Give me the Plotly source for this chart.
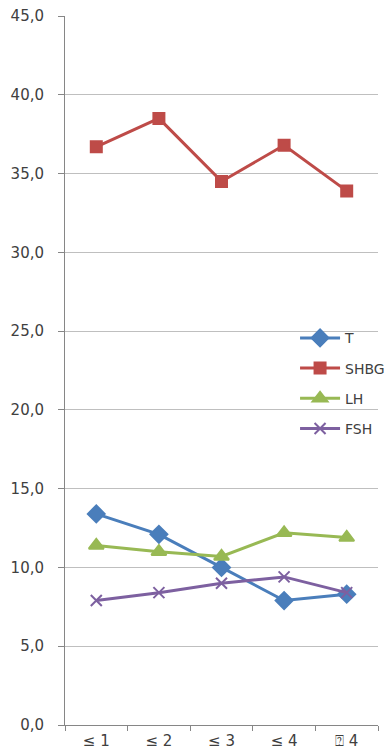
import plotly.graph_objects as go

categories = ["≤ 1", "≤ 2", "≤ 3", "≤ 4", "⍰ 4"]
T = [13.4, 12.1, 10.0, 7.9, 8.3]
SHBG = [36.7, 38.5, 34.5, 36.8, 33.9]
LH = [11.4, 11.0, 10.7, 12.2, 11.9]
FSH = [7.9, 8.4, 9.0, 9.4, 8.4]
ytick_vals = [0, 5, 10, 15, 20, 25, 30, 35, 40, 45]
ytick_text = ["0,0", "5,0", "10,0", "15,0", "20,0", "25,0", "30,0", "35,0", "40,0", "45,0"]

series = [
    ("T", T, "#4A7EBB", "diamond", 13),
    ("SHBG", SHBG, "#BE4B48", "square", 11),
    ("LH", LH, "#98B954", "triangle-up", 13),
    ("FSH", FSH, "#7D60A0", "x-thin", 11),
]

fig = go.Figure()
for name, vals, color, sym, size in series:
    fig.add_trace(go.Scatter(
        x=categories, y=vals, name=name, mode="lines+markers",
        legendgroup=name,
        line=dict(color=color, width=3),
        marker=dict(symbol=sym, size=size, color=color,
                    line=dict(color=color, width=2)),
    ))

font = dict(family="DejaVu Sans", size=15, color="#404040")
fig.update_layout(
    width=384, height=744,
    margin=dict(l=57, r=2, t=8, b=27),
    paper_bgcolor="white", plot_bgcolor="white",
    font=font,
    showlegend=True,
    legend=dict(x=0.735, y=0.568, xanchor="left", yanchor="top",
                bgcolor="rgba(0,0,0,0)", tracegroupgap=9,
                font=dict(family="DejaVu Sans", size=14, color="#404040"),
                itemwidth=40),
    xaxis=dict(type="category", range=[-0.5, len(categories) - 0.5],
               showline=True, linecolor="#868686", linewidth=1,
               ticks="outside", tickson="boundaries", ticklen=5, tickcolor="#868686",
               showgrid=False, tickfont=font, ticklabelstandoff=2,
               ticklabeloverflow="allow", automargin=False),
    yaxis=dict(range=[0, 45], tickvals=ytick_vals, ticktext=ytick_text,
               showline=True, linecolor="#868686", linewidth=1,
               ticks="outside", ticklen=6, tickcolor="#868686",
               showgrid=True, gridcolor="#BFBFBF", gridwidth=1,
               zeroline=False, tickfont=font, ticklabelstandoff=11,
               ticklabeloverflow="allow", automargin=False),
)
fig.write_html("out.html")
